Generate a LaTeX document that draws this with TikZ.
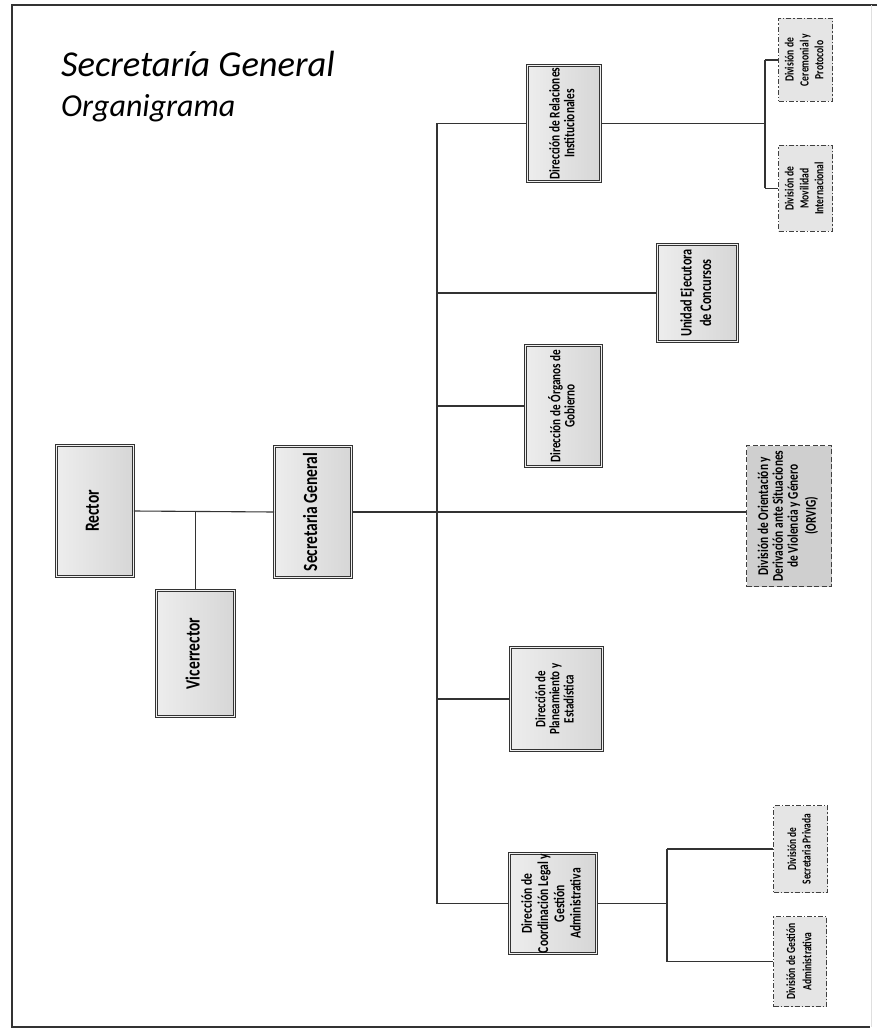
\documentclass[tikz,border=0pt]{standalone}
\usepackage{fontspec}
\usepackage{graphicx}
\setmainfont{Carlito}
\newcommand\vtxt[3]{\rotatebox{90}{\scalebox{1}[1.3]{\fontsize{#1}{#2}\selectfont\bfseries\begin{tabular}{@{}c@{}}#3\end{tabular}}}}
\tikzset{
  mainbox/.style={rectangle, inner sep=0pt, draw=black!80, line width=0.8pt,
    double=gray!12, double distance=1.5pt, left color=gray!14, right color=gray!32},
  divbox/.style={rectangle, inner sep=0pt, draw=black!75, line width=1.1pt,
    dash pattern=on 5pt off 2pt on 1.5pt off 2pt, fill=gray!20},
  orvbox/.style={rectangle, inner sep=0pt, draw=black!75, line width=1.1pt,
    dash pattern=on 5pt off 2.5pt, fill=gray!38},
  conn/.style={draw=black!80, line width=1.1pt},
  frame/.style={draw=black!80, line width=2pt}
}
\begin{document}
\begin{tikzpicture}[x=1pt,y=-1pt]
\useasboundingbox (0,0) rectangle (877,1032);
\draw[frame] (877,5) -- (12,5) -- (12,1027) -- (870,1027);
\draw[gray!25, line width=0.6pt] (871,5) -- (871,1027);

\node[anchor=base west, inner sep=0pt] (title) at (61,77) {\fontsize{36.5}{42}\selectfont\itshape Secretaría General};
\node[anchor=base west, inner sep=0pt] (subtitle) at (61,117) {\fontsize{32}{38}\selectfont\itshape Organigrama};

% main boxes
\node[mainbox, minimum width=77pt, minimum height=131pt] (rector) at (95,511) {\vtxt{15.5}{15}{Rector}};
\node[mainbox, minimum width=78pt, minimum height=126pt] (vice) at (195.5,653.5) {\vtxt{15.5}{15}{Vicerrector}};
\node[mainbox, minimum width=77pt, minimum height=131pt] (secgen) at (313,512) {\vtxt{15.5}{15}{Secretaria General}};

\node[mainbox, minimum width=73pt, minimum height=116pt] (relinst) at (564,123.5) {\vtxt{11.4}{11}{Dirección de Relaciones\\Institucionales}};
\node[mainbox, minimum width=80pt, minimum height=97pt] (unidad) at (697.5,293) {\vtxt{12.3}{15}{Unidad Ejecutora\\de Concursos}};
\node[mainbox, minimum width=76pt, minimum height=121pt] (organos) at (563.5,406) {\vtxt{11.2}{10.5}{Dirección de Órganos de\\Gobierno}};
\node[mainbox, minimum width=92pt, minimum height=103pt] (planea) at (556.5,699) {\vtxt{11}{10.5}{Dirección de\\Planeamiento y\\Estadística}};
\node[mainbox, minimum width=87pt, minimum height=100pt] (coord) at (553,903.5) {\vtxt{11.6}{12.5}{Dirección de\\Coordinación Legal y\\Gestión\\Administrativa}};

% division boxes
\node[divbox, minimum width=54pt, minimum height=83pt] (ceremonial) at (805.5,60) {\vtxt{9.6}{11.5}{División de\\Ceremonial y\\Protocolo}};
\node[divbox, minimum width=54pt, minimum height=86pt] (movilidad) at (805.5,188.5) {\vtxt{9.6}{11.5}{División de\\Movilidad\\Internacional}};
\node[orvbox, minimum width=85pt, minimum height=141pt] (orvig) at (789,516) {\vtxt{11.4}{11.5}{División de Orientación y\\Derivación ante Situaciones\\de Violencia y Género\\[2pt](ORVIG)}};
\node[divbox, minimum width=54pt, minimum height=87pt] (secpriv) at (800.5,849) {\vtxt{9.4}{11}{División de\\Secretaria Privada}};
\node[divbox, minimum width=53pt, minimum height=90pt] (gestadm) at (800,961.5) {\vtxt{9.6}{12.5}{División de Gestión\\Administrativa}};

% connector helpers
\coordinate (tk) at (437,0);
\coordinate (busA) at (765,0);
\coordinate (busB) at (667,0);

% connectors
\draw[conn] (rector.east) -- (secgen.west);
\draw[conn] (vice.north) -- (vice.north |- rector.east);
\draw[conn] (secgen.east) -- (secgen.east -| orvig.west);
\draw[conn] (relinst.west -| tk) -- (coord.west -| tk);
\draw[conn] (relinst.west) -- (relinst.west -| tk);
\draw[conn] (unidad.west) -- (unidad.west -| tk);
\draw[conn] (organos.west) -- (organos.west -| tk);
\draw[conn] (planea.west) -- (planea.west -| tk);
\draw[conn] (coord.west) -- (coord.west -| tk);

\draw[conn] (relinst.east) -- (relinst.east -| busA);
\draw[conn] (ceremonial.west -| busA) -- (movilidad.west -| busA);
\draw[conn] (ceremonial.west -| busA) -- (ceremonial.west);
\draw[conn] (movilidad.west -| busA) -- (movilidad.west);

\draw[conn] (coord.east) -- (coord.east -| busB);
\draw[conn] (secpriv.west -| busB) -- (gestadm.west -| busB);
\draw[conn] (secpriv.west -| busB) -- (secpriv.west);
\draw[conn] (gestadm.west -| busB) -- (gestadm.west);
\end{tikzpicture}
\end{document}
